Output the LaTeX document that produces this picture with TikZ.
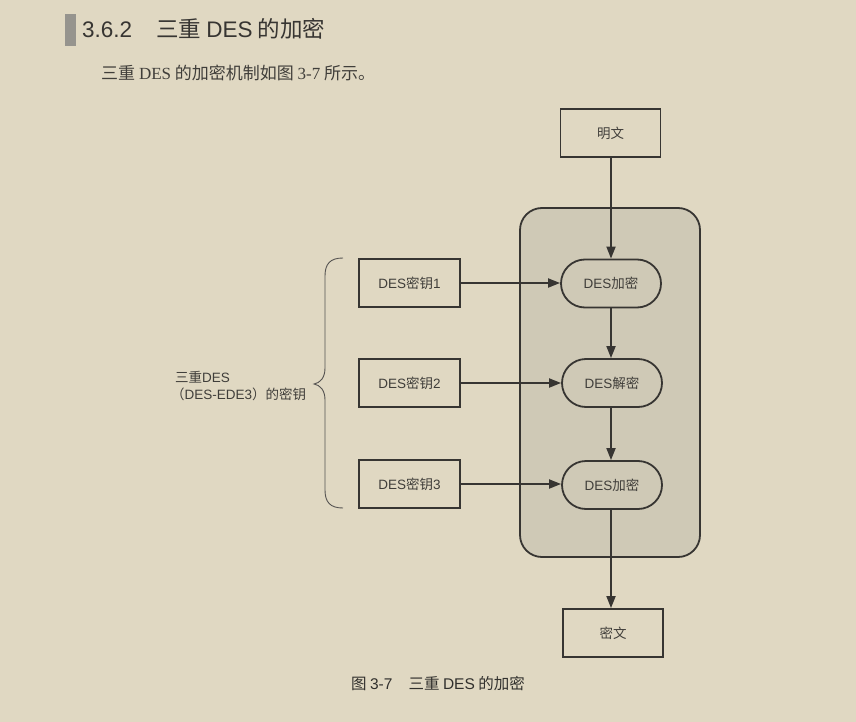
\documentclass[tikz,border=0pt]{standalone}
\usepackage{fontspec}
\setmainfont{Noto Sans CJK SC}
\newfontfamily\cjk{Noto Sans CJK SC}
\newfontfamily\latinsans{Liberation Sans}
\newfontfamily\latinserif{Liberation Serif}
\usetikzlibrary{arrows.meta}
\definecolor{paper}{RGB}{224,216,194}
\definecolor{panel}{RGB}{207,201,182}
\definecolor{ink}{RGB}{55,53,50}
\definecolor{txt}{RGB}{64,62,58}
\definecolor{barg}{RGB}{150,148,142}
\tikzset{
  box/.style={draw=ink, line width=1.8bp, minimum width=100bp, minimum height=48bp,
    inner sep=0pt, font=\fontsize{13.5bp}{15bp}\selectfont, text=txt},
  pill/.style={box, rounded corners=24bp},
  flow/.style={draw=ink, line width=1.8bp, -{Triangle[length=12bp,width=9bp]}},
}
\begin{document}
\begin{tikzpicture}[x=1bp,y=-1bp]
  \fill[paper] (0,0) rectangle (856,722);
  \useasboundingbox (0,0) rectangle (856,722);

  % section heading
  \fill[barg] (65,14) rectangle (76,46);
  \node[anchor=base west, inner sep=0pt, text=ink, font=\fontsize{22.5bp}{25bp}\selectfont]
    (head) at (82,38) {{\latinsans 3.6.2}\hspace{24bp}三重 {\latinsans DES} 的加密};

  % body sentence
  \node[anchor=base west, inner sep=0pt, text=txt, font=\fontsize{17bp}{20bp}\selectfont]
    (para) at (101,80) {三重 {\latinserif DES} 的加密机制如图 {\latinserif 3-7} 所示。};

  % enclosing panel
  \node[draw=ink, line width=1.8bp, fill=panel, rounded corners=22bp,
        minimum width=180bp, minimum height=349bp, inner sep=0pt] (panel) at (610,382.5) {};

  % plaintext / ciphertext
  \node[box] (pt) at (610.5,133) {明文};
  \node[box] (ct) at (613,633) {密文};

  % DES stages
  \node[pill] (e1) at (611,283.5) {{\latinsans DES}加密};
  \node[pill] (d2) at (612,383) {{\latinsans DES}解密};
  \node[pill] (e3) at (612,485) {{\latinsans DES}加密};

  % keys
  \node[box, minimum width=101bp] (k1) at (409.5,283) {{\latinsans DES}密钥{\latinsans 1}};
  \node[box, minimum width=101bp] (k2) at (409.5,383) {{\latinsans DES}密钥{\latinsans 2}};
  \node[box, minimum width=101bp] (k3) at (409.5,484) {{\latinsans DES}密钥{\latinsans 3}};

  % data path
  \draw[flow] (pt.south -| e1) -- (e1.north);
  \draw[flow] (e1.south) -- (e1.south |- d2.north);
  \draw[flow] (d2.south -| e1) -- (e1 |- e3.north);
  \draw[flow] (e3.south -| e1) -- (e1 |- ct.north);

  % key inputs
  \draw[flow] (k1.east) -- (k1.east -| e1.west);
  \draw[flow] (k2.east) -- (k2.east -| d2.west);
  \draw[flow] (k3.east) -- (k3.east -| e3.west);

  % brace grouping the three keys
  \coordinate (bt) at (343,258);
  \coordinate (bb) at (343,508);
  \coordinate (btip) at (314,384);
  \draw[ink!85, line width=0.9bp]
    (bt) .. controls (330,258) and (325,264) .. (325,276)
    -- (325,368) .. controls (325,378) and (320,383) .. (btip)
    .. controls (320,385) and (325,390) .. (325,400)
    -- (325,490) .. controls (325,502) and (330,508) .. (bb);

  \node[anchor=base west, inner sep=0pt, text=txt, font=\fontsize{13.5bp}{15bp}\selectfont]
    (lab1) at (175,382) {三重{\latinsans DES}};
  \node[anchor=base west, inner sep=0pt, text=txt, font=\fontsize{13.5bp}{15bp}\selectfont]
    (lab2) at (171,399) {（{\latinsans DES-EDE3}）的密钥};

  % caption
  \node[anchor=base, inner sep=0pt, text=ink!90!black, font=\fontsize{15.5bp}{18bp}\selectfont]
    (cap) at (438,689) {图 {\latinsans 3-7}\hspace{16bp}三重 {\latinsans DES} 的加密};
\end{tikzpicture}
\end{document}
